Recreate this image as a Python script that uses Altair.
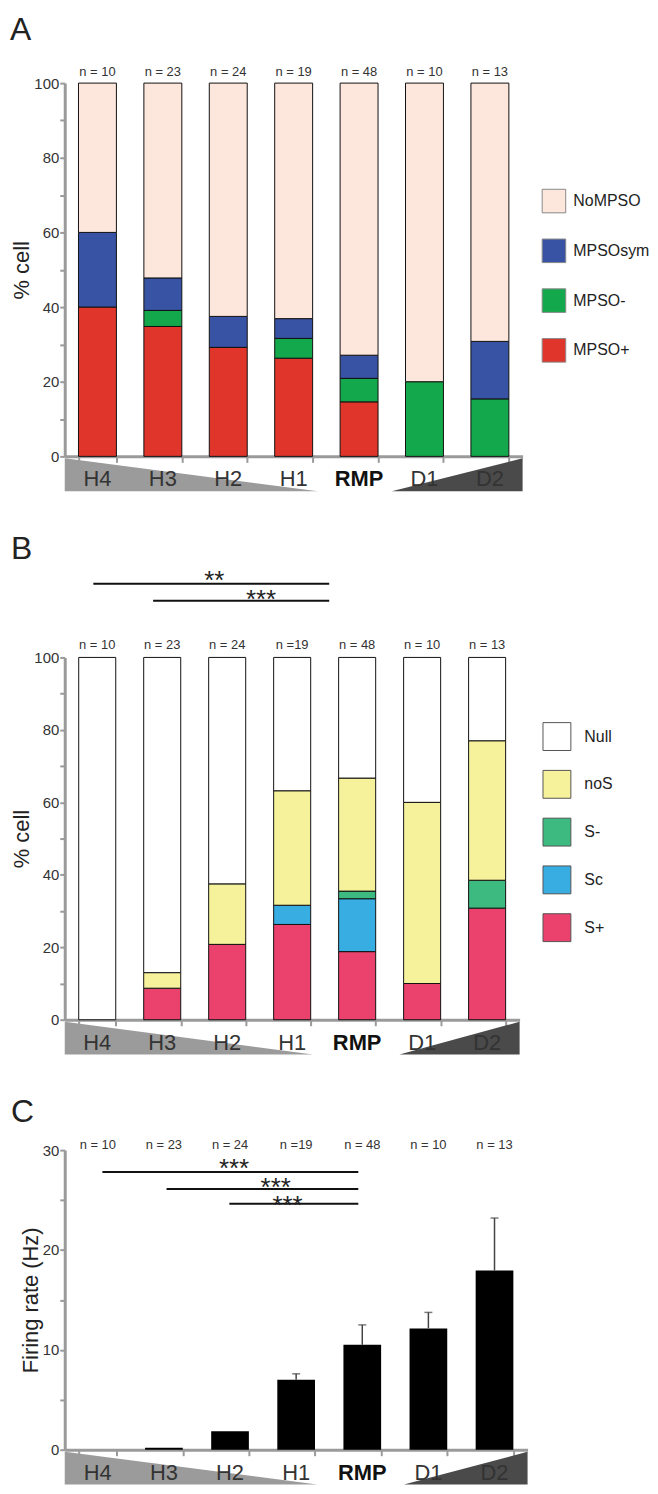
import altair as alt
import pandas as pd

FONT = "Liberation Sans, Arial, Helvetica, sans-serif"

cats = ["H4", "H3", "H2", "H1", "RMP", "D1", "D2"]
n_a = ["n = 10", "n = 23", "n = 24", "n = 19", "n = 48", "n = 10", "n = 13"]
n_bc = ["n = 10", "n = 23", "n = 24", "n =19", "n = 48", "n = 10", "n = 13"]

# ---- Panel A : % cell ----
a_series = ["NoMPSO", "MPSOsym", "MPSO-", "MPSO+"]
a_colors = ["#fde7dd", "#3853a4", "#12a84b", "#e0352a"]
a_mpso_plus = [40.0, 34.8, 29.2, 26.3, 14.6, 0.0, 0.0]
a_mpso_minus = [0.0, 4.3, 0.0, 5.3, 6.3, 20.0, 15.4]
a_mpso_sym = [20.0, 8.7, 8.3, 5.3, 6.2, 0.0, 15.4]
a_nompso = [40.0, 52.2, 62.5, 63.1, 72.9, 80.0, 69.2]

# ---- Panel B : % cell ----
b_series = ["Null", "noS", "S-", "Sc", "S+"]
b_colors = ["#ffffff", "#f6f29b", "#3dba80", "#38ade2", "#eb426d"]
b_splus = [0.0, 8.7, 20.8, 26.3, 18.8, 10.0, 30.8]
b_sc = [0.0, 0.0, 0.0, 5.3, 14.6, 0.0, 0.0]
b_sminus = [0.0, 0.0, 0.0, 0.0, 2.1, 0.0, 7.7]
b_nos = [0.0, 4.3, 16.7, 31.6, 31.2, 50.0, 38.5]
b_null = [100.0, 87.0, 62.5, 36.8, 33.3, 40.0, 23.0]

# ---- Panel C : firing rate ----
c_rate = [0.0, 0.2, 1.85, 7.0, 10.5, 12.15, 17.95]
c_err_top = [None, None, None, 7.6, 12.5, 13.75, 23.2]

# significance annotations (x in category-band units, text)
b_sig_lines = [(0.44, 4.07), (1.36, 4.07)]
b_sig_text = [(2.30, "**"), (3.02, "***")]
c_sig_lines = [(0.57, 4.44), (1.54, 4.44), (2.49, 4.44)]
c_sig_text = [(2.56, "***"), (3.19, "***"), (3.37, "***")]

AXIS_GRAY = "#9a9a9a"


def x_enc(pad):
    return alt.X(
        "cat:N", sort=cats,
        scale=alt.Scale(paddingInner=pad, paddingOuter=pad / 2),
        axis=alt.Axis(title=None, labels=False, domainColor=AXIS_GRAY, domainWidth=3,
                      tickColor=AXIS_GRAY, tickWidth=2, tickSize=6, tickBand="extent"),
    )


def y_axis(title, values, label_step):
    return alt.Axis(
        title=title, values=values,
        labelExpr=f"datum.value % {label_step} == 0 ? datum.label : ''",
        grid=False, domainColor=AXIS_GRAY, domainWidth=3, tickColor=AXIS_GRAY,
        tickWidth=2, tickSize=5, labelFontSize=15, labelColor="#333", labelPadding=1,
        titleFontSize=22, titleFontWeight="normal", titleColor="#222", titlePadding=0,
    )


def labels_layers(n_labels, n_y, h):
    df = pd.DataFrame({"cat": cats, "n": n_labels})
    xe = alt.X("cat:N", sort=cats)
    nl = alt.Chart(df).mark_text(fontSize=13, color="#333", baseline="alphabetic").encode(
        x=xe, y=alt.value(n_y), text="n:N")
    xl = alt.Chart(df).transform_filter("datum.cat != 'RMP'").mark_text(
        fontSize=22, color="#333", baseline="alphabetic").encode(
        x=xe, y=alt.value(h + 30), text="cat:N")
    xb = alt.Chart(df).transform_filter("datum.cat == 'RMP'").mark_text(
        fontSize=22, color="#111", fontWeight="bold", baseline="alphabetic").encode(
        x=xe, y=alt.value(h + 30), text="cat:N")
    return [nl, xl, xb]


def letter_layer(letter, lx, ly):
    return alt.Chart(pd.DataFrame({"t": [letter]})).mark_text(
        fontSize=32, color="#222", align="left", baseline="alphabetic").encode(
        x=alt.value(lx), y=alt.value(ly), text="t:N")


def decor(h, left_end, right_start, sig_lines, line_ys, sig_text, text_ys):
    xs = alt.Scale(domain=[0, 7], nice=False, zero=False)
    ys = alt.Scale(domain=[0, 1], range=[h + 35, h + 2])
    left = alt.Chart(pd.DataFrame({"tx": [0, left_end], "ty": [1, 0]})).mark_area(
        color="#9b9b9b").encode(
        x=alt.X("tx:Q", scale=xs, axis=None), y=alt.Y("ty:Q", scale=ys, axis=None, stack=None))
    right = alt.Chart(pd.DataFrame({"tx": [right_start, 7], "ty": [0, 1]})).mark_area(
        color="#4a4a4a").encode(
        x=alt.X("tx:Q", scale=xs, axis=None), y=alt.Y("ty:Q", scale=ys, axis=None, stack=None))
    layers = [left, right]
    for (x1, x2), py in zip(sig_lines, line_ys):
        layers.append(alt.Chart(pd.DataFrame({"x1": [x1], "x2": [x2]})).mark_rule(
            color="#111", strokeWidth=2).encode(
            x=alt.X("x1:Q", scale=xs, axis=None), x2="x2:Q", y=alt.value(py)))
    for (sx, s), py in zip(sig_text, text_ys):
        layers.append(alt.Chart(pd.DataFrame({"sx": [sx], "s": [s]})).mark_text(
            fontSize=26, color="#222", baseline="alphabetic").encode(
            x=alt.X("sx:Q", scale=xs, axis=None), y=alt.value(py), text="s:N"))
    return alt.layer(*layers)


def stacked_df(series, columns, key):
    rows = []
    for order, (name, vals) in enumerate(zip(series[::-1], columns)):
        for c, v in zip(cats, vals):
            if v > 0:
                rows.append({"cat": c, key: name, "val": v, "ord": order})
    return pd.DataFrame(rows)


# ---------- Panel A ----------
WA, HA, PA = 460, 375, 0.42
dfA = stacked_df(a_series, [a_mpso_plus, a_mpso_minus, a_mpso_sym, a_nompso], "typeA")
barsA = alt.Chart(dfA).mark_bar(stroke="#111", strokeWidth=1).encode(
    x=x_enc(PA),
    y=alt.Y("val:Q", stack="zero", scale=alt.Scale(domain=[0, 100], nice=False),
            axis=y_axis("% cell", list(range(0, 101, 10)), 20)),
    color=alt.Color("typeA:N", scale=alt.Scale(domain=a_series, range=a_colors),
                    legend=alt.Legend(title=None, orient="none", legendX=479, legendY=106,
                                      symbolType="square", symbolSize=560,
                                      symbolStrokeColor="#888", symbolStrokeWidth=1,
                                      symbolOpacity=1, labelFontSize=16, labelColor="#222",
                                      labelOffset=7, rowPadding=21, padding=0)),
    order=alt.Order("ord:Q", sort="ascending"),
)
mainA = alt.layer(barsA, *labels_layers(n_a, -7, HA), letter_layer("A", -55, -43))
decA = decor(HA, 3.87, 5.0, [], [], [], [])
panelA = alt.layer(decA, mainA).resolve_scale(x="independent", y="independent").properties(
    width=WA, height=HA)

# ---------- Panel B ----------
WB, HB, PB = 457, 364, 0.43
dfB = stacked_df(b_series, [b_splus, b_sc, b_sminus, b_nos, b_null], "typeB")
barsB = alt.Chart(dfB).mark_bar(stroke="#111", strokeWidth=1).encode(
    x=x_enc(PB),
    y=alt.Y("val:Q", stack="zero", scale=alt.Scale(domain=[0, 100], nice=False),
            axis=y_axis("% cell", list(range(0, 101, 10)), 20)),
    color=alt.Color("typeB:N", scale=alt.Scale(domain=b_series, range=b_colors),
                    legend=alt.Legend(title=None, orient="none", legendX=480, legendY=65,
                                      symbolType="square", symbolSize=784,
                                      symbolStrokeColor="#555", symbolStrokeWidth=1,
                                      symbolOpacity=1, labelFontSize=16, labelColor="#222",
                                      labelOffset=13, rowPadding=15, padding=0)),
    order=alt.Order("ord:Q", sort="ascending"),
)
mainB = alt.layer(barsB, *labels_layers(n_bc, -8, HB), letter_layer("B", -54, -99))
decB = decor(HB, 3.82, 5.15, b_sig_lines, [-74, -57], b_sig_text, [-69, -50])
panelB = alt.layer(decB, mainB).resolve_scale(x="independent", y="independent").properties(
    width=WB, height=HB)

# ---------- Panel C ----------
WC, HC, PC = 465, 301, 0.43
dfC = pd.DataFrame({"cat": cats, "rate": c_rate, "top": c_err_top})
yC = alt.Y("rate:Q", scale=alt.Scale(domain=[0, 30], nice=False),
           axis=y_axis("Firing rate (Hz)", list(range(0, 31, 5)), 10))
barsC = alt.Chart(dfC).transform_filter("datum.rate > 0").mark_bar(color="#000").encode(
    x=x_enc(PC), y=yC)
errC = alt.Chart(dfC).transform_filter("isValid(datum.top)").mark_rule(
    color="#444", strokeWidth=1.5).encode(
    x=alt.X("cat:N", sort=cats), y="rate:Q", y2="top:Q")
capC = alt.Chart(dfC).transform_filter("isValid(datum.top)").mark_tick(
    color="#444", thickness=1.5, size=8, orient="horizontal").encode(
    x=alt.X("cat:N", sort=cats), y=alt.Y("top:Q"))
mainC = alt.layer(barsC, errC, capC, *labels_layers(n_bc, -1, HC),
                  letter_layer("C", -54, -28))
decC = decor(HC, 3.82, 5.13, c_sig_lines, [22, 39, 54], c_sig_text, [27.5, 46, 64])
panelC = alt.layer(decC, mainC).resolve_scale(x="independent", y="independent").properties(
    width=WC, height=HC)

chart = alt.vconcat(panelA, panelB, panelC, spacing=42).resolve_scale(
    color="independent"
).properties(
    padding={"left": 2, "top": 3, "right": 0, "bottom": 0}
).configure(font=FONT).configure_view(stroke=None)

chart.save("out.html", embed_options={"renderer": "svg", "actions": False})
